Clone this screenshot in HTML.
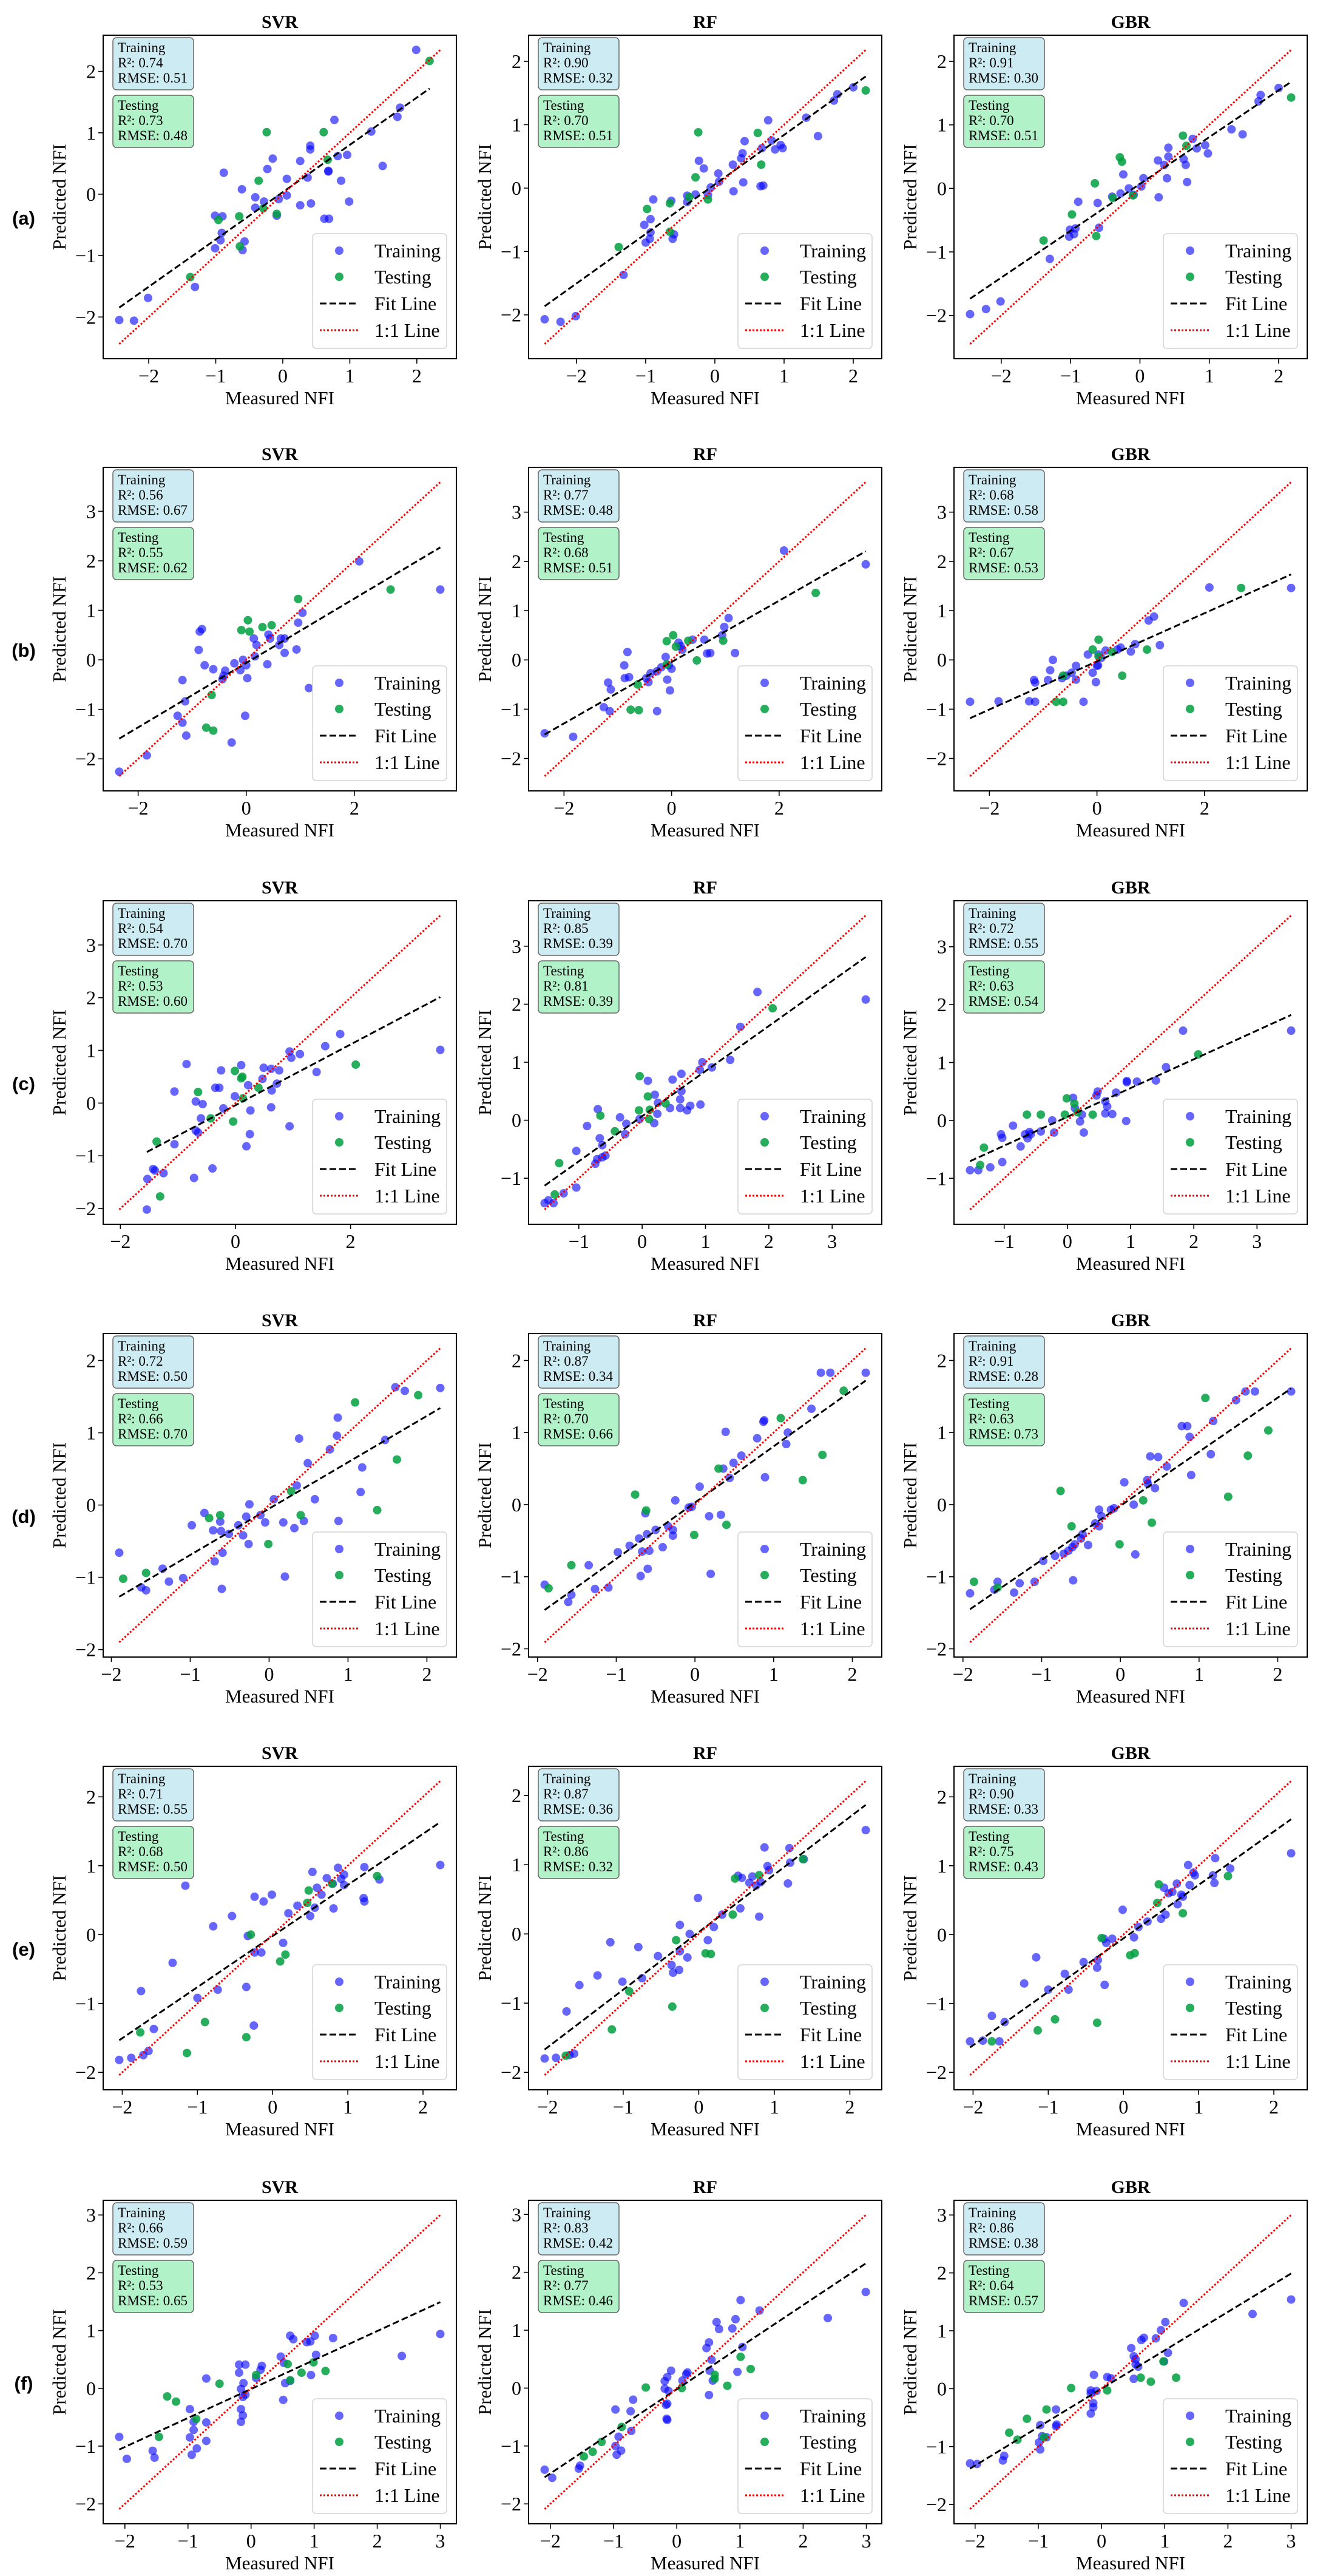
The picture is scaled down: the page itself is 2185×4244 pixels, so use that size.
<!DOCTYPE html>
<html><head><meta charset="utf-8"><title>Measured vs Predicted NFI</title>
<style>
html,body{margin:0;padding:0;background:#fff;}
svg{display:block;}
text{font-family:"Liberation Serif","Times New Roman",serif;fill:#000;}
.sans{font-family:"Liberation Sans",Arial,sans-serif;}
</style></head>
<body>
<svg id="fig" xmlns="http://www.w3.org/2000/svg" width="2185" height="4244" viewBox="0 0 2185 4244"></svg>
<script>
// ---------------- DATA (measured, predicted pairs) ----------------
const A_SVR_TRAIN=[[1.99,2.35],[1.75,1.41],[1.71,1.26],[1.32,1.02],[0.77,1.21],[1.49,0.46],[0.96,0.64],[0.82,0.62],[0.41,0.79],[0.41,0.73],[0.26,0.54],[-0.15,0.58],[-0.23,0.41],[-0.88,0.35],[0.68,0.38],[0.68,0.37],[0.37,0.27],[0.87,0.22],[0.06,0.25],[-0.61,0.08],[-0.41,-0.05],[0.06,-0.02],[-0.06,-0.08],[-0.28,-0.12],[-0.41,-0.22],[0.26,-0.18],[0.42,-0.15],[0.99,-0.12],[0.62,-0.40],[0.69,-0.40],[-0.09,-0.35],[-1.01,-0.35],[-0.90,-0.36],[-0.91,-0.63],[-0.93,-0.75],[-0.57,-0.77],[-1.01,-0.88],[-0.60,-0.91],[-1.31,-1.51],[-2.01,-1.69],[-2.44,-2.05],[-2.22,-2.06]];
const A_SVR_TEST=[[2.19,2.17],[-0.24,1.01],[0.61,1.01],[0.67,0.56],[-0.36,0.22],[-0.29,-0.23],[-0.09,-0.32],[-0.96,-0.42],[-0.65,-0.36],[-0.64,-0.85],[-1.38,-1.35]];
const A_RF_TRAIN=[[2.0,1.59],[1.77,1.48],[1.72,1.38],[1.32,1.11],[0.77,1.07],[1.49,0.82],[0.43,0.74],[0.82,0.75],[0.95,0.68],[0.98,0.63],[0.87,0.61],[0.68,0.63],[0.40,0.55],[-0.23,0.43],[0.38,0.47],[0.26,0.37],[-0.16,0.31],[0.05,0.23],[0.06,0.10],[0.41,0.09],[-0.06,0.01],[0.27,-0.05],[0.66,0.03],[0.70,0.04],[-0.40,-0.12],[-0.28,-0.10],[-0.10,-0.11],[-0.40,-0.22],[-0.63,-0.20],[-0.89,-0.18],[-0.93,-0.49],[-1.02,-0.58],[-0.93,-0.70],[-0.59,-0.73],[-0.61,-0.80],[-0.94,-0.80],[-1.0,-0.86],[-1.32,-1.37],[-2.01,-2.02],[-2.46,-2.07],[-2.23,-2.11]];
const A_RF_TEST=[[2.18,1.54],[-0.24,0.88],[0.62,0.87],[0.67,0.37],[-0.28,0.17],[-0.37,-0.14],[-0.10,-0.18],[-0.65,-0.24],[-0.98,-0.33],[-0.65,-0.69],[-1.39,-0.93]];
const A_GBR_TRAIN=[[2.0,1.58],[1.74,1.47],[1.71,1.37],[1.32,0.93],[1.48,0.85],[0.76,0.78],[0.94,0.68],[0.82,0.63],[0.98,0.55],[0.41,0.64],[0.63,0.46],[0.66,0.37],[0.26,0.44],[0.41,0.50],[0.35,0.37],[-0.24,0.22],[0.05,0.16],[0.39,0.16],[0.68,0.10],[-0.16,0.0],[0.02,0.03],[-0.28,-0.08],[-0.09,-0.10],[-0.40,-0.13],[0.27,-0.14],[-0.61,-0.23],[-0.89,-0.21],[-0.59,-0.62],[-0.93,-0.63],[-1.01,-0.65],[-0.95,-0.72],[-1.02,-0.76],[-1.30,-1.11],[-2.01,-1.78],[-2.22,-1.90],[-2.45,-1.98]];
const A_GBR_TEST=[[2.18,1.43],[0.62,0.83],[0.67,0.67],[-0.29,0.49],[-0.26,0.42],[-0.65,0.08],[-0.39,-0.15],[-0.10,-0.11],[-0.98,-0.41],[-0.63,-0.75],[-1.39,-0.82]];

const B_SVR_TRAIN=[[2.09,1.99],[3.59,1.42],[1.04,0.95],[0.96,0.75],[-0.82,0.62],[-0.86,0.57],[0.41,0.51],[0.44,0.43],[0.14,0.43],[0.64,0.43],[0.71,0.43],[0.19,0.30],[0.61,0.30],[-0.88,0.20],[0.93,0.21],[0.71,0.14],[0.16,0.07],[-0.06,0.0],[-0.22,-0.07],[0.0,-0.11],[0.39,-0.09],[-0.77,-0.11],[-0.11,-0.21],[-0.61,-0.19],[-0.39,-0.22],[-0.42,-0.32],[0.02,-0.37],[-0.44,-0.39],[-1.18,-0.41],[1.16,-0.57],[-1.13,-0.84],[-1.27,-1.13],[-1.18,-1.27],[-0.02,-1.13],[-1.11,-1.53],[-0.27,-1.67],[-1.84,-1.93],[-2.35,-2.26]];
const B_SVR_TEST=[[2.67,1.42],[0.96,1.23],[0.03,0.80],[-0.09,0.60],[0.06,0.57],[0.30,0.66],[0.47,0.70],[-0.64,-0.71],[-0.74,-1.37],[-0.61,-1.43]];
const B_RF_TRAIN=[[2.09,2.22],[3.61,1.94],[1.06,0.85],[0.98,0.67],[0.94,0.50],[1.18,0.14],[0.66,0.13],[0.72,0.14],[0.61,0.41],[0.39,0.41],[0.13,0.35],[0.17,0.28],[0.20,0.21],[-0.82,0.16],[-0.11,0.06],[-0.05,-0.11],[0.0,-0.18],[-0.88,-0.11],[-0.19,-0.15],[-0.27,-0.23],[-0.39,-0.27],[-0.47,-0.37],[-0.79,-0.35],[-0.87,-0.37],[-0.08,-0.40],[-1.18,-0.46],[-0.43,-0.45],[-1.13,-0.60],[-0.03,-0.62],[-1.26,-0.96],[-1.15,-1.04],[-0.27,-1.04],[-1.83,-1.56],[-2.36,-1.49]];
const B_RF_TEST=[[2.68,1.36],[0.03,0.50],[-0.09,0.38],[0.31,0.39],[0.96,0.39],[0.08,0.27],[0.47,-0.01],[-0.09,-0.09],[-0.63,-0.50],[-0.76,-1.01],[-0.61,-1.02]];
const B_GBR_TRAIN=[[3.61,1.46],[2.09,1.47],[1.06,0.88],[0.96,0.80],[1.17,0.30],[0.71,0.32],[0.44,0.25],[0.38,0.21],[0.16,0.19],[-0.17,0.11],[0.03,0.11],[0.63,0.17],[0.08,0.04],[-0.82,0.0],[0.02,-0.11],[-0.39,-0.12],[0.0,-0.12],[-0.87,-0.21],[-0.08,-0.26],[-0.47,-0.26],[-0.57,-0.32],[-0.91,-0.41],[-1.17,-0.41],[-0.65,-0.37],[-0.39,-0.40],[-1.15,-0.46],[-0.02,-0.45],[-2.36,-0.85],[-1.83,-0.84],[-1.26,-0.84],[-1.15,-0.85],[-0.25,-0.85]];
const B_GBR_TEST=[[2.68,1.46],[0.03,0.41],[-0.08,0.21],[0.93,0.21],[0.28,0.16],[0.03,0.07],[-0.63,-0.32],[0.47,-0.32],[-0.76,-0.85],[-0.63,-0.85]];

const C_SVR_TRAIN=[[3.56,1.01],[1.82,1.31],[1.56,1.08],[0.94,0.98],[0.97,0.86],[1.12,0.93],[1.41,0.59],[0.76,0.62],[0.62,0.65],[0.49,0.67],[0.10,0.72],[-0.25,0.62],[-0.85,0.74],[0.47,0.46],[0.72,0.37],[0.63,0.24],[0.22,0.34],[-0.28,0.29],[-0.35,0.29],[-1.06,0.22],[-0.01,0.13],[-0.69,0.03],[-0.57,-0.02],[0.62,-0.08],[0.26,-0.14],[-0.21,-0.10],[-0.60,-0.29],[0.94,-0.44],[-0.69,-0.52],[-0.65,-0.56],[0.25,-0.59],[-1.06,-0.78],[0.19,-0.82],[-0.40,-1.24],[-1.43,-1.25],[-1.40,-1.28],[-1.25,-1.33],[-1.53,-1.44],[-0.72,-1.42],[-1.54,-2.02]];
const C_SVR_TEST=[[2.09,0.73],[-0.01,0.61],[0.12,0.50],[0.10,0.47],[0.40,0.29],[-0.65,0.21],[0.13,0.09],[-0.43,-0.29],[-0.04,-0.35],[-1.37,-0.73],[-1.31,-1.77]];
const C_RF_TRAIN=[[3.53,2.08],[1.82,2.21],[1.55,1.61],[1.39,1.04],[0.95,1.00],[1.10,0.91],[0.91,0.87],[0.62,0.80],[0.48,0.70],[0.09,0.68],[0.62,0.50],[0.60,0.36],[0.92,0.27],[0.76,0.25],[0.60,0.21],[0.44,0.21],[0.71,0.17],[0.20,0.44],[0.25,0.30],[-0.70,0.19],[0.24,0.11],[-0.35,0.05],[-0.04,0.02],[-0.87,-0.10],[-0.25,-0.06],[0.19,-0.05],[-0.27,-0.24],[-0.67,-0.31],[-0.63,-0.43],[-1.04,-0.53],[-0.58,-0.61],[-0.63,-0.64],[-0.71,-0.67],[-0.74,-0.75],[-1.04,-1.16],[-1.24,-1.26],[-1.48,-1.38],[-1.54,-1.43],[-1.40,-1.43]];
const C_RF_TEST=[[2.06,1.93],[-0.04,0.76],[0.09,0.41],[-0.05,0.17],[0.12,0.18],[0.37,0.29],[-0.66,0.08],[0.11,0.02],[-0.43,-0.19],[-1.31,-0.74],[-1.38,-1.28]];
const C_GBR_TRAIN=[[3.54,1.55],[1.83,1.55],[1.56,0.92],[1.40,0.69],[1.10,0.67],[0.94,0.68],[0.94,0.66],[0.77,0.48],[0.48,0.50],[0.46,0.43],[0.60,0.33],[0.63,0.24],[0.60,0.12],[0.71,0.11],[0.93,-0.01],[0.09,0.39],[0.12,0.21],[0.23,0.10],[0.20,-0.02],[-0.24,0.0],[0.26,-0.21],[-0.86,-0.09],[-0.42,-0.19],[-0.21,-0.21],[-0.60,-0.20],[-0.67,-0.24],[-0.58,-0.24],[-1.05,-0.24],[-1.03,-0.30],[-0.63,-0.31],[-0.74,-0.45],[-1.03,-0.72],[-1.22,-0.81],[-1.54,-0.86],[-1.41,-0.86]];
const C_GBR_TEST=[[2.07,1.14],[-0.01,0.38],[0.11,0.29],[0.16,0.14],[-0.04,0.10],[-0.64,0.10],[-0.42,0.10],[0.40,0.10],[-1.32,-0.47],[-1.38,-0.77]];

const D_SVR_TRAIN=[[2.17,1.62],[1.60,1.63],[1.72,1.58],[0.87,1.21],[0.38,0.92],[0.86,0.96],[1.47,0.90],[0.77,0.77],[0.49,0.58],[1.18,0.52],[0.35,0.27],[1.16,0.18],[0.06,0.08],[0.58,0.08],[-0.25,0.01],[-0.82,-0.11],[-0.29,-0.16],[-0.11,-0.14],[-0.62,-0.23],[-0.05,-0.24],[0.18,-0.24],[0.44,-0.22],[0.88,-0.22],[-0.98,-0.28],[-0.39,-0.28],[0.32,-0.32],[-0.71,-0.35],[-0.61,-0.36],[-0.51,-0.40],[-0.33,-0.42],[-0.26,-0.54],[-0.59,-0.66],[-0.69,-0.78],[-1.90,-0.66],[-1.35,-0.88],[0.20,-0.99],[-1.27,-1.06],[-1.09,-1.01],[-1.62,-1.14],[-1.56,-1.18],[-0.60,-1.16]];
const D_SVR_TEST=[[1.89,1.52],[1.09,1.42],[1.62,0.63],[0.28,0.19],[1.37,-0.07],[0.40,-0.14],[-0.62,-0.14],[-0.76,-0.18],[-0.01,-0.54],[-1.56,-0.94],[-1.85,-1.02]];
const D_RF_TRAIN=[[2.17,1.83],[1.60,1.83],[1.72,1.83],[0.88,1.17],[0.87,1.15],[1.48,1.33],[0.39,1.01],[0.79,0.92],[1.18,1.00],[1.16,0.84],[0.59,0.68],[0.49,0.58],[0.36,0.50],[0.44,0.37],[0.89,0.38],[0.06,0.25],[-0.25,0.06],[-0.08,-0.04],[-0.04,-0.03],[0.18,-0.16],[0.33,-0.14],[-0.63,-0.12],[-0.34,-0.30],[-0.50,-0.35],[-0.28,-0.35],[-0.61,-0.41],[-0.28,-0.43],[-0.71,-0.47],[-0.83,-0.57],[-0.41,-0.59],[-0.98,-0.66],[-0.58,-0.64],[-0.67,-0.65],[-0.60,-0.89],[-0.69,-0.99],[0.20,-0.96],[-1.35,-0.84],[-1.10,-1.15],[-1.27,-1.17],[-1.91,-1.11],[-1.57,-1.25],[-1.61,-1.35]];
const D_RF_TEST=[[1.89,1.58],[1.09,1.20],[1.62,0.69],[1.37,0.34],[0.30,0.50],[-0.76,0.14],[-0.62,-0.08],[0.40,-0.28],[-0.01,-0.42],[-1.57,-0.84],[-1.86,-1.16]];
const D_GBR_TRAIN=[[2.17,1.57],[1.59,1.57],[1.71,1.57],[1.47,1.45],[1.18,1.16],[0.78,1.09],[0.85,1.09],[0.88,0.94],[1.15,0.70],[0.38,0.67],[0.48,0.66],[0.59,0.53],[0.90,0.41],[0.05,0.31],[0.34,0.34],[0.35,0.29],[0.44,0.23],[0.17,0.0],[-0.08,-0.05],[-0.27,-0.07],[-0.12,-0.07],[-0.24,-0.16],[-0.32,-0.26],[-0.27,-0.30],[-0.48,-0.41],[-0.50,-0.47],[-0.41,-0.56],[-0.58,-0.55],[-0.61,-0.59],[-0.66,-0.64],[-0.72,-0.68],[-0.83,-0.71],[0.19,-0.69],[-0.98,-0.78],[-0.60,-1.05],[-1.09,-1.07],[-1.28,-1.09],[-1.35,-1.22],[-1.56,-1.07],[-1.60,-1.18],[-1.91,-1.23]];
const D_GBR_TEST=[[1.08,1.48],[1.88,1.03],[1.62,0.68],[1.37,0.11],[-0.76,0.19],[0.29,0.06],[0.40,-0.25],[-0.62,-0.30],[-0.01,-0.55],[-1.56,-1.15],[-1.86,-1.07]];

const E_SVR_TRAIN=[[2.23,1.01],[1.22,0.98],[0.87,0.97],[0.53,0.91],[0.72,0.82],[0.95,0.87],[0.91,0.81],[1.42,0.80],[0.80,0.74],[0.95,0.72],[0.59,0.68],[0.65,0.58],[-1.16,0.71],[-0.24,0.55],[-0.01,0.58],[-0.12,0.48],[1.21,0.53],[1.22,0.48],[0.33,0.42],[0.56,0.39],[0.81,0.38],[0.21,0.31],[0.50,0.27],[-0.54,0.27],[-0.79,0.12],[-0.33,-0.02],[0.14,-0.12],[-0.24,-0.26],[-0.15,-0.26],[-1.33,-0.41],[-0.35,-0.76],[-0.73,-0.80],[-1.00,-0.92],[-1.75,-0.82],[-0.25,-1.32],[-1.58,-1.37],[-1.65,-1.69],[-1.72,-1.75],[-1.88,-1.79],[-2.04,-1.82]];
const E_SVR_TEST=[[1.39,0.85],[0.48,0.64],[0.46,0.46],[0.79,0.74],[-0.29,0.0],[0.17,-0.29],[0.10,-0.39],[-0.90,-1.27],[-0.35,-1.49],[-1.76,-1.42],[-1.14,-1.72]];
const E_RF_TRAIN=[[2.21,1.50],[0.87,1.25],[1.20,1.24],[1.39,1.08],[0.91,0.98],[1.21,1.03],[0.93,0.92],[0.52,0.84],[0.71,0.83],[0.57,0.81],[0.67,0.74],[0.82,0.75],[1.18,0.73],[0.76,0.70],[-0.01,0.52],[0.55,0.37],[0.31,0.28],[0.80,0.25],[-0.25,0.13],[0.20,0.10],[-0.12,0.0],[0.12,-0.09],[-1.17,-0.12],[-0.80,-0.19],[-0.25,-0.25],[-0.54,-0.32],[-0.15,-0.34],[-0.36,-0.45],[-0.26,-0.52],[-0.34,-0.56],[-1.34,-0.60],[-0.75,-0.64],[-1.01,-0.69],[-1.58,-0.74],[-1.75,-1.12],[-1.65,-1.73],[-1.71,-1.75],[-1.89,-1.79],[-2.04,-1.80]];
const E_RF_TEST=[[1.38,1.08],[0.48,0.80],[0.80,0.85],[0.45,0.28],[-0.30,-0.09],[0.09,-0.28],[0.16,-0.29],[-0.92,-0.83],[-0.35,-1.05],[-1.76,-1.76],[-1.15,-1.38]];
const E_GBR_TRAIN=[[2.23,1.18],[1.22,1.11],[1.42,0.96],[0.86,1.01],[0.93,0.90],[0.95,0.86],[1.19,0.86],[0.71,0.74],[0.88,0.72],[1.21,0.75],[0.54,0.68],[0.60,0.60],[0.65,0.62],[0.77,0.58],[0.79,0.55],[0.72,0.44],[-0.01,0.36],[0.56,0.29],[0.50,0.23],[0.32,0.19],[0.20,0.11],[0.14,-0.04],[-0.26,-0.06],[-0.15,-0.06],[-0.23,-0.12],[-1.16,-0.33],[-0.53,-0.40],[-0.34,-0.37],[-0.35,-0.48],[-0.78,-0.57],[-1.32,-0.71],[-0.25,-0.73],[-1.00,-0.80],[-0.73,-0.80],[-1.75,-1.18],[-1.58,-1.27],[-2.04,-1.55],[-1.87,-1.54],[-1.65,-1.55]];
const E_GBR_TEST=[[1.39,0.85],[0.47,0.73],[0.45,0.46],[0.79,0.31],[-0.29,-0.05],[0.15,-0.27],[0.09,-0.30],[-0.91,-1.23],[-0.35,-1.28],[-1.75,-1.55],[-1.14,-1.39]];

const F_SVR_TRAIN=[[3.00,0.94],[2.39,0.56],[0.62,0.91],[0.67,0.85],[1.01,0.91],[1.30,0.87],[0.88,0.80],[0.94,0.81],[0.47,0.55],[0.52,0.44],[1.03,0.58],[0.17,0.39],[-0.19,0.41],[-0.09,0.41],[-0.19,0.27],[0.15,0.32],[0.08,0.18],[0.95,0.23],[-0.71,0.17],[-0.12,0.09],[0.54,0.09],[0.62,0.13],[-0.16,-0.01],[-0.09,-0.11],[-0.13,-0.15],[0.51,-0.20],[-0.97,-0.36],[-0.16,-0.36],[-0.13,-0.47],[-0.91,-0.58],[-0.71,-0.59],[-0.16,-0.58],[-0.91,-0.72],[-0.97,-0.85],[-0.71,-0.91],[-0.86,-1.04],[-1.56,-1.08],[-0.94,-1.15],[-1.53,-1.20],[-2.09,-0.84],[-1.97,-1.22]];
const F_SVR_TEST=[[0.58,0.42],[0.99,0.45],[1.18,0.30],[0.80,0.27],[0.62,0.14],[0.08,0.23],[-0.50,0.08],[-1.33,-0.14],[-1.19,-0.23],[-0.87,-0.53],[-1.46,-0.84]];
const F_RF_TRAIN=[[2.99,1.66],[2.39,1.21],[1.01,1.52],[1.31,1.34],[0.93,1.19],[0.63,1.14],[0.67,1.02],[0.88,1.03],[0.51,0.79],[0.47,0.69],[1.04,0.71],[0.55,0.49],[-0.09,0.30],[0.17,0.27],[0.15,0.24],[0.52,0.30],[0.96,0.28],[-0.15,0.19],[-0.19,0.12],[0.09,0.13],[0.57,0.13],[-0.19,-0.01],[-0.13,-0.05],[0.51,-0.12],[-0.69,-0.20],[-0.15,-0.27],[-0.17,-0.29],[-0.97,-0.37],[-0.73,-0.40],[-0.16,-0.53],[-0.15,-0.55],[-0.72,-0.74],[-0.92,-0.84],[-0.97,-1.00],[-0.88,-1.08],[-0.95,-1.15],[-1.53,-1.34],[-1.55,-1.39],[-2.09,-1.41],[-1.97,-1.55]];
const F_RF_TEST=[[1.01,0.54],[1.17,0.33],[0.60,0.23],[0.60,0.16],[0.80,0.04],[0.08,0.0],[-0.49,0.01],[-0.87,-0.67],[-1.19,-0.93],[-1.33,-1.10],[-1.47,-1.18]];
const F_GBR_TRAIN=[[3.0,1.54],[2.39,1.29],[1.30,1.48],[1.01,1.15],[0.94,1.01],[0.86,0.87],[0.63,0.84],[0.67,0.88],[0.47,0.70],[1.05,0.62],[0.51,0.56],[0.54,0.51],[0.99,0.47],[0.54,0.42],[0.58,0.38],[-0.12,0.24],[0.09,0.20],[0.15,0.18],[0.51,0.17],[-0.17,-0.03],[-0.08,-0.04],[-0.17,-0.08],[-0.13,-0.25],[-0.13,-0.32],[-0.17,-0.43],[-0.72,-0.36],[-0.97,-0.63],[-0.71,-0.62],[-0.72,-0.65],[-0.94,-0.82],[-0.87,-0.84],[-0.99,-0.93],[-0.97,-1.05],[-1.54,-1.16],[-1.56,-1.24],[-2.08,-1.29],[-1.97,-1.30]];
const F_GBR_TEST=[[1.18,0.19],[0.78,0.12],[0.62,0.19],[0.98,0.47],[0.09,-0.03],[-0.48,0.01],[-0.87,-0.36],[-1.18,-0.52],[-1.46,-0.76],[-1.33,-0.88],[-0.91,-0.84]];

const MODELS=["SVR","RF","GBR"];
const ROW_LABELS=["(a)","(b)","(c)","(d)","(e)","(f)"];
const TRAIN_R2=[["0.74","0.90","0.91"],["0.56","0.77","0.68"],["0.54","0.85","0.72"],["0.72","0.87","0.91"],["0.71","0.87","0.90"],["0.66","0.83","0.86"]];
const TRAIN_RMSE=[["0.51","0.32","0.30"],["0.67","0.48","0.58"],["0.70","0.39","0.55"],["0.50","0.34","0.28"],["0.55","0.36","0.33"],["0.59","0.42","0.38"]];
const TEST_R2=[["0.73","0.70","0.70"],["0.55","0.68","0.67"],["0.53","0.81","0.63"],["0.66","0.70","0.63"],["0.68","0.86","0.75"],["0.53","0.77","0.64"]];
const TEST_RMSE=[["0.48","0.51","0.51"],["0.62","0.51","0.53"],["0.60","0.39","0.54"],["0.70","0.66","0.73"],["0.50","0.32","0.43"],["0.65","0.46","0.57"]];
const TRAIN_SETS=[[A_SVR_TRAIN,A_RF_TRAIN,A_GBR_TRAIN],[B_SVR_TRAIN,B_RF_TRAIN,B_GBR_TRAIN],[C_SVR_TRAIN,C_RF_TRAIN,C_GBR_TRAIN],[D_SVR_TRAIN,D_RF_TRAIN,D_GBR_TRAIN],[E_SVR_TRAIN,E_RF_TRAIN,E_GBR_TRAIN],[F_SVR_TRAIN,F_RF_TRAIN,F_GBR_TRAIN]];
const TEST_SETS=[[A_SVR_TEST,A_RF_TEST,A_GBR_TEST],[B_SVR_TEST,B_RF_TEST,B_GBR_TEST],[C_SVR_TEST,C_RF_TEST,C_GBR_TEST],[D_SVR_TEST,D_RF_TEST,D_GBR_TEST],[E_SVR_TEST,E_RF_TEST,E_GBR_TEST],[F_SVR_TEST,F_RF_TEST,F_GBR_TEST]];

// ---------------- LAYOUT ----------------
const COL_X=[170,871,1572];
const ROW_Y=[58,770,1484,2197,2910,3625];
const AW=582, AH=533;
const NS="http://www.w3.org/2000/svg";
const svg=document.getElementById("fig");
function mk(tag,attrs,parent){const e=document.createElementNS(NS,tag);for(const k in attrs)e.setAttribute(k,attrs[k]);(parent||svg).appendChild(e);return e;}
function fmt(v){return v<0?"\u2212"+Math.abs(v):String(v);}

for(let r=0;r<6;r++){
  const rl=mk("text",{x:39,y:ROW_Y[r]+312,"text-anchor":"middle","font-size":31,"font-weight":"bold",class:"sans"});
  
  
  rl.textContent=ROW_LABELS[r];
  for(let c=0;c<3;c++){
    const L=COL_X[c], T=ROW_Y[r];
    const tag=MODELS[c].toLowerCase()+"-"+"abcdef"[r];
    const g=mk("g",{});
    
    
    const train=TRAIN_SETS[r][c], test=TEST_SETS[r][c];
    const all=train.concat(test);
    let lo=Infinity,hi=-Infinity,xmin=Infinity,xmax=-Infinity;
    all.forEach(p=>{lo=Math.min(lo,p[0],p[1]);hi=Math.max(hi,p[0],p[1]);xmin=Math.min(xmin,p[0]);xmax=Math.max(xmax,p[0]);});
    const pad=0.05*(hi-lo), d0=lo-pad, d1=hi+pad;
    const sx=v=>L+(v-d0)/(d1-d0)*AW;
    const sy=v=>T+AH-(v-d0)/(d1-d0)*AH;
    // title
    const tt=mk("text",{x:L+AW/2,y:T-12,"text-anchor":"middle","font-size":30,"font-weight":"bold"},g);
    
    
    tt.textContent=MODELS[c];
    // ticks
    const xstep=(d1-d0)>6?2:1;
    for(let t=Math.ceil(d0/xstep)*xstep;t<=d1;t+=xstep){
      const X=sx(t);
      mk("line",{x1:X,y1:T+AH,x2:X,y2:T+AH+8,stroke:"#000","stroke-width":1.6},g);
      const tl=mk("text",{x:X,y:T+AH+39,"text-anchor":"middle","font-size":32},g);
      
      
      tl.textContent=fmt(t);
    }
    for(let t=Math.ceil(d0);t<=d1;t+=1){
      const Y=sy(t);
      mk("line",{x1:L-8,y1:Y,x2:L,y2:Y,stroke:"#000","stroke-width":1.6},g);
      const tl=mk("text",{x:L-12,y:Y+11,"text-anchor":"end","font-size":32},g);
      
      
      tl.textContent=fmt(t);
    }
    const xl=mk("text",{x:L+AW/2,y:T+AH+75,"text-anchor":"middle","font-size":31},g);
    
    
    xl.textContent="Measured NFI";
    const yl=mk("text",{x:0,y:0,"text-anchor":"middle","font-size":31,transform:`translate(${L-62},${T+AH/2}) rotate(-90)`},g);
    
    
    yl.textContent="Predicted NFI";
    // points
    train.forEach(p=>{
      const ci=mk("circle",{cx:sx(p[0]),cy:sy(p[1]),r:7,fill:"#0000ff","fill-opacity":0.6},g);
      
      
    });
    test.forEach(p=>{
      const ci=mk("circle",{cx:sx(p[0]),cy:sy(p[1]),r:7,fill:"#00a040","fill-opacity":0.85},g);
      
      
    });
    // fit line (least squares on all points)
    let n=all.length,mx=0,my=0;all.forEach(p=>{mx+=p[0];my+=p[1];});mx/=n;my/=n;
    let sxy=0,sxx=0;all.forEach(p=>{sxy+=(p[0]-mx)*(p[1]-my);sxx+=(p[0]-mx)*(p[0]-mx);});
    const b=sxy/sxx,a=my-b*mx;
    const fl=mk("line",{x1:sx(xmin),y1:sy(a+b*xmin),x2:sx(xmax),y2:sy(a+b*xmax),stroke:"#000","stroke-width":3,"stroke-dasharray":"11 5"},g);
    
    
    const il=mk("line",{x1:sx(lo),y1:sy(lo),x2:sx(hi),y2:sy(hi),stroke:"#ff0000","stroke-width":3,"stroke-dasharray":"3 3"},g);
    
    
    // frame
    const fr=mk("rect",{x:L,y:T,width:AW,height:AH,fill:"none",stroke:"#000","stroke-width":2},g);
    
    
    // metric boxes
    const b1=mk("rect",{x:L+16,y:T+4,width:133,height:86,rx:6,fill:"#cdebf2",stroke:"#666","stroke-width":1.5},g);
    
    
    const b2=mk("rect",{x:L+16,y:T+99,width:133,height:86,rx:6,fill:"#b2f2c8",stroke:"#666","stroke-width":1.5},g);
    
    
    const lines1=["Training","R\u00b2: "+TRAIN_R2[r][c],"RMSE: "+TRAIN_RMSE[r][c]];
    const lines2=["Testing","R\u00b2: "+TEST_R2[r][c],"RMSE: "+TEST_RMSE[r][c]];
    lines1.forEach((s,i)=>{const t=mk("text",{x:L+24,y:T+28+i*25,"font-size":23},g);
      
      
      t.textContent=s;});
    lines2.forEach((s,i)=>{const t=mk("text",{x:L+24,y:T+123+i*25,"font-size":23},g);
      
      
      t.textContent=s;});
    // legend
    const lg=mk("g",{},g);
    
    
    mk("rect",{x:L+345,y:T+327,width:221,height:189,rx:6,fill:"#fff","fill-opacity":0.85,stroke:"#d4d4d4","stroke-width":1.5},lg);
    const ey=[355,398,442,486];
    const labels=["Training","Testing","Fit Line","1:1 Line"];
    const m1=mk("circle",{cx:L+389,cy:T+ey[0],r:7,fill:"#0000ff","fill-opacity":0.6},lg);
    
    
    const m2=mk("circle",{cx:L+389,cy:T+ey[1],r:7,fill:"#00a040","fill-opacity":0.85},lg);
    
    
    mk("line",{x1:L+357,y1:T+ey[2],x2:L+421,y2:T+ey[2],stroke:"#000","stroke-width":3,"stroke-dasharray":"11 5"},lg);
    mk("line",{x1:L+357,y1:T+ey[3],x2:L+421,y2:T+ey[3],stroke:"#ff0000","stroke-width":3,"stroke-dasharray":"3 3"},lg);
    labels.forEach((s,i)=>{const t=mk("text",{x:L+447,y:T+ey[i]+11,"font-size":32},lg);
      
      
      t.textContent=s;});
  }
}
</script>
</body></html>
